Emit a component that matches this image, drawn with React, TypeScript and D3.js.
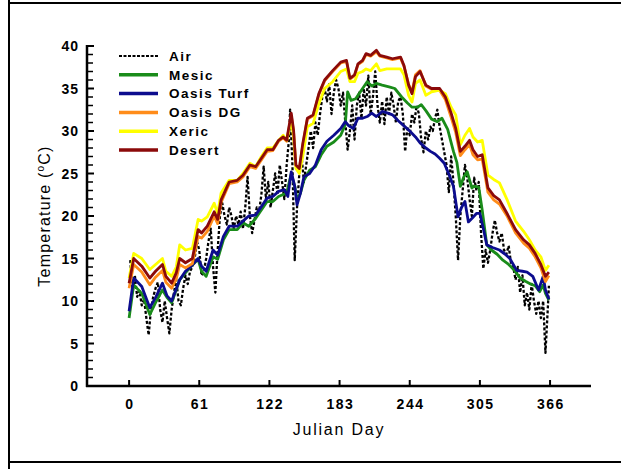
import React from "react";
import * as d3 from "d3";

// Daily air temperature (dashed black)
const airDays = [1,3,5,7,9,11,13,15,17,19,21,23,25,27,29,31,33,35,37,39,41,43,45,47,49,51,53,55,57,59,61,63,65,67,69,71,73,75,77,79,81,83,85,87,89,91,93,95,97,99,101,103,105,107,109,111,113,115,117,119,121,123,125,127,129,131,133,135,137,139,140,142,144,146,148,150,152,154,156,158,160,162,164,166,168,170,172,174,176,178,180,182,184,186,188,190,192,194,196,198,200,202,204,206,208,210,212,214,216,218,220,222,224,226,228,230,232,234,236,238,240,242,244,246,248,250,252,254,256,258,260,262,264,266,268,270,272,274,276,278,280,282,284,286,288,290,292,294,296,298,300,302,304,306,308,310,312,314,316,318,320,322,324,326,328,330,332,334,336,338,340,342,344,346,348,350,352,354,356,358,360,361,362,364,365];
const airTemps = [14.8,11.0,13.0,10.5,11.2,9.5,10.2,8.0,6.0,9.0,10.5,11.5,12.2,9.0,7.5,10.0,8.0,6.2,9.0,11.0,12.5,10.0,9.5,11.5,13.0,12.0,13.5,14.0,15.0,17.0,16.0,13.0,13.5,15.0,17.0,18.5,14.0,11.0,16.0,20.0,21.5,20.0,19.0,21.0,20.0,18.5,20.0,19.0,20.5,18.5,21.0,24.6,20.0,18.0,19.5,21.0,20.5,22.5,25.8,22.0,24.0,21.0,23.0,25.0,22.5,26.0,24.0,22.0,26.0,29.0,32.5,26.0,14.8,21.0,25.0,27.0,24.0,26.0,28.0,30.0,28.0,31.0,29.5,32.0,34.0,35.0,33.5,35.5,32.0,34.5,36.0,35.0,33.0,34.5,31.0,27.8,30.0,33.0,29.0,33.0,34.5,31.5,35.0,33.0,36.5,32.0,34.0,37.0,33.0,31.0,33.5,30.8,34.0,32.0,34.5,33.0,31.0,33.5,34.0,32.0,27.6,30.5,29.5,32.0,31.0,33.0,32.0,29.0,27.5,30.0,29.0,30.5,30.0,31.5,32.5,30.5,29.0,27.5,26.0,22.8,27.0,24.0,20.0,14.8,20.0,23.0,26.0,24.5,22.0,20.0,24.5,23.0,24.0,18.0,13.8,16.0,14.5,16.0,18.0,19.5,18.0,17.0,18.0,16.0,15.5,16.5,14.5,14.0,12.5,14.0,11.0,13.0,9.5,11.0,9.0,12.0,10.0,8.5,10.0,8.0,10.0,7.0,3.9,9.0,11.8];

// Mesic landscape
const mesicDays = [0,4,11,18,23,29,33,37,44,49,54,60,63,67,73,77,82,87,94,99,104,110,115,120,125,130,137,141,144,146,149,152,157,162,167,172,178,184,188,190,193,197,200,203,207,211,215,220,226,231,237,242,246,251,254,258,263,268,272,277,282,285,288,291,294,298,300,304,307,311,315,320,325,330,335,340,345,349,353,357,360,362,365];
const mesicTemps = [8.0,11.9,10.9,8.4,9.8,11.3,10.4,9.8,12.5,13.3,14.1,14.9,13.5,12.9,15.2,14.9,17.2,18.4,18.4,19.2,18.8,19.7,20.7,21.7,21.7,22.3,22.7,25.0,23.5,21.9,22.7,24.2,25.4,25.8,27.2,28.2,28.7,29.5,30.8,34.6,33.6,33.8,34.4,35.0,35.8,35.3,35.6,35.4,35.2,35.0,34.0,33.3,32.8,32.8,33.1,32.4,31.4,31.1,31.5,30.2,27.6,26.3,23.5,24.6,25.2,23.3,23.5,23.4,20.7,16.6,16.0,15.5,14.8,14.3,13.6,12.7,12.3,12.0,11.8,11.1,11.9,10.9,10.1];

// Oasis turf
const turfDays = [0,4,11,18,23,29,33,37,44,49,54,60,63,67,73,77,82,87,94,99,104,110,115,120,125,130,135,138,141,144,146,149,152,157,162,167,172,178,184,188,191,195,199,203,207,211,215,220,225,229,234,239,244,249,253,258,262,266,270,274,279,282,286,289,292,295,298,302,305,308,311,316,322,327,331,337,342,346,351,356,360,362,365];
const turfTemps = [8.8,12.7,11.7,9.2,10.4,12.1,10.6,10.0,12.5,13.5,14.1,15.0,14.1,13.5,16.0,15.4,17.6,18.8,18.8,19.4,20.0,20.1,21.1,22.1,22.3,22.9,23.1,22.3,25.2,23.5,21.3,22.7,24.6,25.0,26.0,27.8,28.8,29.5,30.3,31.1,30.6,30.3,31.5,31.5,31.7,32.1,31.7,32.3,32.1,31.9,31.2,30.6,30.0,29.3,28.6,28.0,27.6,27.3,26.8,26.2,24.6,23.5,19.9,21.0,21.7,19.3,19.7,20.3,20.3,18.5,16.6,16.3,16.0,15.5,15.0,13.6,13.5,13.4,12.9,11.3,12.9,11.3,10.2];

// Shared day axis for the three warm surfaces
const warmDays = [0,4,11,18,23,29,32,37,41,44,49,55,60,63,68,74,77,80,87,94,99,105,110,115,120,125,130,134,137,141,143,145,148,151,155,160,165,170,177,184,189,192,196,199,203,206,210,215,218,224,229,236,239,243,246,249,253,258,263,270,275,280,284,288,292,296,299,303,307,312,317,322,329,336,343,348,353,358,362,365];
const oasisDgTemps = [11.5,14.3,13.4,11.9,12.8,13.6,12.2,11.5,12.6,14.3,13.9,14.4,17.6,17.4,18.2,20.0,19.1,21.6,23.8,24.0,24.6,25.8,25.6,26.6,27.6,27.7,28.8,29.2,28.8,31.8,29.9,25.9,25.5,28.3,31.4,31.8,34.3,35.9,37.0,38.0,38.2,36.1,36.5,37.8,38.2,39.0,38.8,39.3,38.8,38.6,38.4,38.6,37.6,35.5,34.6,36.6,37.1,35.3,34.9,34.8,33.7,31.6,29.8,27.1,27.8,28.4,27.2,26.6,26.7,22.8,21.9,21.4,19.9,18.0,16.8,16.2,15.2,13.9,12.3,13.0];
const xericTemps = [12.7,15.6,15.0,13.7,14.3,15.0,13.5,12.9,14.0,16.6,16.0,16.2,19.6,19.4,19.9,21.5,20.3,22.7,24.2,24.2,25.0,26.2,25.8,27.0,28.0,28.0,28.9,29.5,28.9,31.3,29.3,25.6,25.0,27.0,30.5,30.9,33.2,35.0,35.8,37.0,37.3,35.8,35.8,36.8,37.0,37.3,37.1,37.9,37.1,37.3,37.3,37.3,36.6,34.2,33.4,35.6,36.0,34.2,34.6,34.8,34.4,32.8,31.9,28.4,29.5,30.3,29.3,28.7,28.9,24.8,24.3,23.9,21.8,19.4,18.2,17.2,16.0,15.2,13.6,14.2];
const desertTemps = [12.1,15.0,14.1,12.7,13.5,14.3,12.9,12.1,13.3,15.0,14.5,15.0,18.4,18.0,18.8,20.5,19.6,21.9,24.0,24.2,24.8,26.0,25.8,26.8,27.8,27.8,28.9,29.3,28.9,32.1,30.1,26.0,25.6,28.5,31.5,31.9,34.4,36.0,37.1,38.1,38.3,36.2,36.6,37.9,38.3,39.1,38.9,39.5,38.9,38.7,38.5,38.7,37.7,35.4,34.4,36.4,37.0,35.4,35.0,35.0,34.0,32.1,30.3,27.6,28.2,28.9,27.8,27.0,27.2,23.3,22.4,21.9,20.2,18.4,17.2,16.6,15.6,14.3,12.9,13.4];

const xTicks = [0, 61, 122, 183, 244, 305, 366];
const yTicks = [0, 5, 10, 15, 20, 25, 30, 35, 40];

type Series = { name: string; days: number[]; temps: number[]; color: string; dashed?: boolean };

const series: Series[] = [
  { name: "Air", days: airDays, temps: airTemps, color: "#000000", dashed: true },
  { name: "Mesic", days: mesicDays, temps: mesicTemps, color: "#1A8C1A" },
  { name: "Oasis Turf", days: turfDays, temps: turfTemps, color: "#0C0C8E" },
  { name: "Oasis DG", days: warmDays, temps: oasisDgTemps, color: "#FF8C1A" },
  { name: "Xeric", days: warmDays, temps: xericTemps, color: "#FFFF00" },
  { name: "Desert", days: warmDays, temps: desertTemps, color: "#8B0A0A" },
];

const W = 621;
const H = 469;
const axisLeft = 87;
const axisRight = 591;
const axisBottom = 386;
const axisTop = 46;

export default function App() {
  const x = d3.scaleLinear().domain([-36.6, 401.6]).range([axisLeft, axisRight]);
  const y = d3.scaleLinear().domain([0, 40]).range([axisBottom, axisTop]);
  const minorTicks = d3.range(0, 41, 1);

  const lineFor = (s: Series) =>
    d3
      .line<number>()
      .x((_, i) => x(s.days[i]))
      .y((t) => y(t))(s.temps) || "";

  const font = "'Liberation Sans', Arial, sans-serif";
  const legendX0 = 119;
  const legendX1 = 158;
  const legendY = d3.scaleLinear().domain([0, 5]).range([56, 150]);

  return (
    <svg
      width={W}
      height={H}
      style={{ position: "absolute", left: 0, top: 0, background: "#fff" }}
      fontFamily={font}
    >
      <rect x={0} y={0} width={W} height={H} fill="#fff" />
      {/* outer frame */}
      <line x1={9} y1={0} x2={9} y2={H} stroke="#000" strokeWidth={2} />
      <line x1={9} y1={3} x2={W} y2={3} stroke="#000" strokeWidth={2} />
      <line x1={9} y1={462} x2={W} y2={462} stroke="#000" strokeWidth={2} />

      {/* series */}
      <g fill="none" strokeLinejoin="round">
        {series.map((s) => (
          <path
            key={s.name}
            d={lineFor(s)}
            stroke={s.color}
            strokeWidth={s.dashed ? 2.3 : 2.8}
            strokeDasharray={s.dashed ? "3,2" : undefined}
          />
        ))}
      </g>

      {/* y axis */}
      <line x1={axisLeft} y1={axisTop - 1} x2={axisLeft} y2={axisBottom + 1} stroke="#000" strokeWidth={2.5} />
      {minorTicks.map((t) => (
        <line
          key={"m" + t}
          x1={axisLeft}
          x2={axisLeft + (t % 5 === 0 ? 7 : 6)}
          y1={y(t)}
          y2={y(t)}
          stroke="#000"
          strokeWidth={t % 5 === 0 ? 2 : 1.5}
        />
      ))}
      {yTicks.map((t) => (
        <text
          key={"yl" + t}
          x={79}
          y={y(t)}
          dy="0.36em"
          textAnchor="end"
          fontSize={14}
          fontWeight="bold"
          letterSpacing={1}
          fill="#000"
        >
          {t}
        </text>
      ))}

      {/* x axis */}
      <line x1={axisLeft - 1} y1={axisBottom} x2={axisRight} y2={axisBottom} stroke="#000" strokeWidth={2.5} />
      {xTicks.map((d) => (
        <g key={"x" + d}>
          <line x1={x(d)} x2={x(d)} y1={axisBottom} y2={axisBottom - 6} stroke="#000" strokeWidth={2} />
          <text
            x={x(d) + 0.8}
            y={axisBottom + 18}
            dy="0.36em"
            textAnchor="middle"
            fontSize={14}
            fontWeight="bold"
            letterSpacing={1.5}
            fill="#000"
          >
            {d}
          </text>
        </g>
      ))}

      {/* axis titles */}
      <text x={339} y={429} dy="0.36em" textAnchor="middle" fontSize={16} letterSpacing={1.8} fill="#000">
        Julian Day
      </text>
      <text
        transform={`translate(44, ${(axisTop + axisBottom) / 2}) rotate(-90)`}
        textAnchor="middle"
        dy="0.36em"
        fontSize={16}
        letterSpacing={1.2}
        fill="#000"
      >
        Temperature (
        <tspan fontSize={10} dy="-0.55em">o</tspan>
        <tspan dy="0.36em">C)</tspan>
      </text>

      {/* legend */}
      {series.map((s, i) => (
        <g key={"lg" + s.name}>
          <line
            x1={legendX0}
            x2={legendX1}
            y1={legendY(i)}
            y2={legendY(i)}
            stroke={s.color}
            strokeWidth={s.dashed ? 2 : 3.5}
            strokeDasharray={s.dashed ? "3,1.5" : undefined}
          />
          <text
            x={169}
            y={legendY(i)}
            dy="0.36em"
            fontSize={13.5}
            fontWeight="bold"
            letterSpacing={1.5}
            fill="#000"
          >
            {s.name}
          </text>
        </g>
      ))}
    </svg>
  );
}
